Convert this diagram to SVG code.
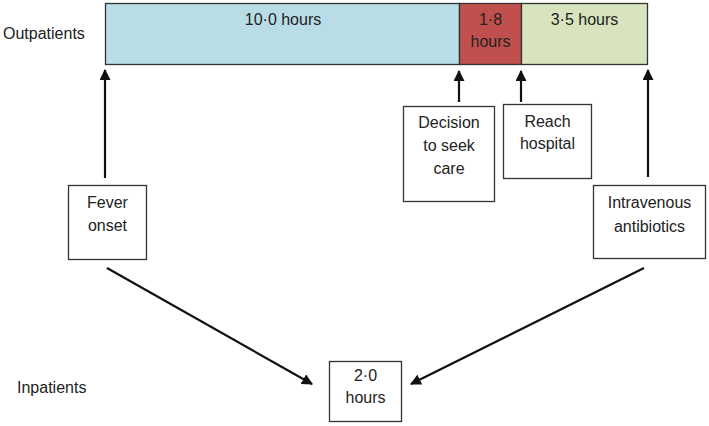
<svg xmlns="http://www.w3.org/2000/svg" width="709" height="426" viewBox="0 0 709 426">
<defs>
<marker id="ah" viewBox="0 0 10 10" refX="9" refY="5" markerWidth="5" markerHeight="5" orient="auto" markerUnits="strokeWidth">
<path d="M0,0 L10,5 L0,10 z" fill="#111"/>
</marker>
<style>
text{font-family:"Liberation Sans",Arial,sans-serif;font-size:16px;fill:#222;text-anchor:middle}
.lbl{text-anchor:start}
.box{fill:#fff;stroke:#333;stroke-width:1.3}
.seg{stroke:#333;stroke-width:1.3}
.c{stroke:#111;stroke-width:2.2;fill:none;marker-end:url(#ah)}
</style>
</defs>
<rect width="709" height="426" fill="#fff"/>
<text class="lbl" x="3" y="39">Outpatients</text>
<text class="lbl" x="17" y="393">Inpatients</text>
<g id="bar-blue"><rect class="seg" x="105.5" y="3.5" width="354" height="61" fill="#b8dde6"/><text x="283" y="25">10·0 hours</text></g>
<g id="bar-red"><rect class="seg" x="459.5" y="3.5" width="62" height="61" fill="#c0504d"/><text x="490.5" y="25">1·8</text><text x="490.5" y="47">hours</text></g>
<g id="bar-green"><rect class="seg" x="521.5" y="3.5" width="126" height="61" fill="#d7e4bd"/><text x="584.5" y="25">3·5 hours</text></g>
<g id="fever"><rect class="box" x="68.5" y="185.5" width="78" height="74"/><text x="107.5" y="208">Fever</text><text x="107.5" y="231">onset</text></g>
<g id="decision"><rect class="box" x="403.5" y="106.5" width="91" height="95"/><text x="449" y="128">Decision</text><text x="449" y="151">to seek</text><text x="449" y="174">care</text></g>
<g id="reach"><rect class="box" x="503.5" y="104.5" width="88" height="74"/><text x="547.5" y="127">Reach</text><text x="547.5" y="149">hospital</text></g>
<g id="iv"><rect class="box" x="593.5" y="185.5" width="112" height="73"/><text x="649.5" y="208">Intravenous</text><text x="649.5" y="232">antibiotics</text></g>
<g id="inpatient"><rect class="box" x="329.5" y="361.5" width="72" height="60" fill="#d7e4bd"/><text x="365.5" y="381">2·0</text><text x="365.5" y="403">hours</text></g>
<g id="connectors">
<line class="c" x1="105" y1="178" x2="105" y2="70"/>
<line class="c" x1="459" y1="102" x2="459" y2="71"/>
<line class="c" x1="521" y1="102" x2="521" y2="71"/>
<line class="c" x1="648" y1="177" x2="648" y2="70"/>
<line class="c" x1="107" y1="268" x2="312" y2="384"/>
<line class="c" x1="644" y1="268" x2="411" y2="384"/>
</g>
</svg>
